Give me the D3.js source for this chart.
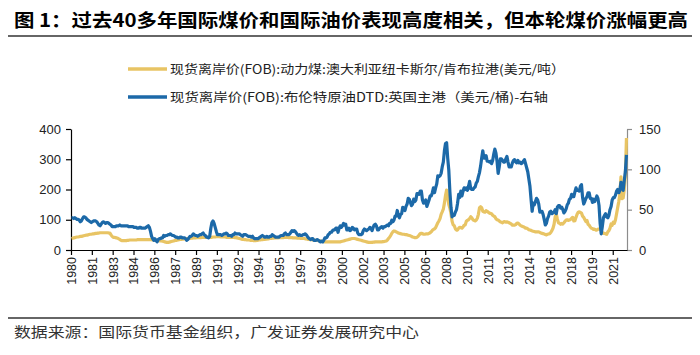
<!DOCTYPE html>
<html><head><meta charset="utf-8">
<script src="https://cdn.jsdelivr.net/npm/d3@7"></script>
<style>body{margin:0;background:#fff}</style></head>
<body><svg id="c" width="700" height="355"></svg>
<script>
const titleText = "图 1：过去40多年国际煤价和国际油价表现高度相关，但本轮煤价涨幅更高";
const seriesNames = ["现货离岸价(FOB):动力煤:澳大利亚纽卡斯尔/肯布拉港(美元/吨）",
                     "现货离岸价(FOB):布伦特原油DTD:英国主港（美元/桶)-右轴"];
const sourceText = "数据来源：国际货币基金组织，广发证券发展研究中心";
const startYear = 1980;
const tickEvery = 19;
const xTickLabels = ["1980","1981","1983","1984","1986","1987","1989","1991","1992","1994","1995","1997","1999","2000","2002","2003","2005","2006","2008","2010","2011","2013","2014","2016","2018","2019","2021"];
const leftTicks = [0,100,200,300,400];
const rightTicks = [0,50,100,150];

// Monthly, Jan 1980 - Mar 2022
const coal = [
38,39,40,41,42,43,43,44,45,45,46,47,
48,49,49,50,51,52,52,53,53,54,55,55,
56,56,57,57,57,57,57,57,57,57,56,56,
50,45,42,42,41,40,39,37,35,32,31,31,
31,31,31,32,32,33,33,33,33,33,33,33,
34,34,34,34,34,34,34,34,34,34,34,34,
34,34,33,33,33,32,32,31,31,30,30,29,
28,27,26,25,25,26,27,28,29,30,31,32,
32,33,34,35,35,36,36,37,37,38,38,38,
38,39,39,40,40,40,41,41,41,41,41,42,
42,42,42,42,42,42,42,42,42,43,43,43,
44,44,44,44,43,43,43,43,43,42,42,42,
42,42,42,42,42,41,41,40,39,38,37,36,
35,35,34,34,33,33,33,32,32,32,31,31,
31,32,32,33,33,34,34,35,35,36,36,37,
37,38,38,39,39,40,40,40,40,41,41,41,
41,41,42,42,42,42,41,41,41,41,40,40,
40,40,39,39,39,38,38,38,38,37,37,36,
35,35,34,34,33,33,32,32,32,31,31,30,
29,28,28,27,27,27,27,27,27,27,27,27,
27,27,27,27,27,27,28,29,30,31,32,33,
34,35,36,37,38,38,38,37,36,35,34,33,
32,31,30,29,28,27,26,25,25,25,25,26,
26,27,27,27,27,27,27,27,28,28,29,30,
33,38,42,48,55,60,63,62,60,58,56,55,
54,53,52,52,51,51,50,49,48,47,45,43,
42,41,41,42,45,50,54,55,54,52,52,53,
53,53,55,57,60,65,68,70,74,82,90,96,
104,118,126,135,155,180,198,175,150,138,120,95,
83,80,70,66,66,72,75,74,72,76,82,83,
95,98,100,104,110,106,100,98,96,99,105,118,
140,143,140,128,126,125,130,128,125,122,121,120,
115,112,110,103,100,99,96,93,92,90,93,94,
92,93,92,90,88,86,82,82,82,84,88,89,
86,82,80,78,77,75,72,72,70,67,66,65,
63,62,61,60,60,60,60,58,56,55,54,53,
51,50,52,53,54,58,64,72,85,110,120,102,
90,88,85,88,86,90,95,99,100,98,99,101,
105,108,96,97,108,118,125,126,124,122,112,108,
101,94,98,85,82,76,72,71,68,69,66,66,
69,69,70,64,58,55,55,53,52,60,64,72,
86,82,92,88,100,120,140,160,185,242,170,172,
200,245,370];

const brent = [
40,40,39,40,39,38,38,37,35,36,39,41,
41,40,38,37,36,35,34,35,36,36,36,35,
33,31,30,32,34,35,34,33,34,34,33,32,
31,29,29,29,29,30,30,30,31,30,30,30,
30,30,30,30,29,29,29,29,29,28,28,28,
27,27,28,28,27,27,27,27,28,29,30,28,
23,17,14,12,14,12,10,13,14,14,15,15,
18,17,18,18,19,19,20,19,18,18,17,16,
16,15,15,16,16,15,15,15,14,12,13,15,
17,17,18,20,19,18,18,17,18,19,19,20,
21,19,18,16,16,15,17,27,34,36,33,28,
23,19,19,19,19,18,19,20,20,21,20,18,
18,18,17,19,19,21,20,20,20,20,19,18,
17,19,19,19,18,17,17,17,16,17,15,14,
14,14,14,15,16,17,18,17,16,16,17,16,
16,17,17,19,18,17,16,16,16,16,17,18,
18,18,20,21,19,19,19,20,22,24,23,24,
23,21,19,18,19,18,18,19,19,20,19,17,
15,14,13,14,14,12,12,12,13,12,11,10,
11,10,12,15,15,16,19,20,22,22,24,25,
25,27,27,22,27,30,28,30,33,31,32,25,
25,27,24,25,28,27,25,26,26,21,19,19,
19,20,24,26,25,24,25,26,28,27,24,28,
31,32,30,25,25,27,28,29,27,29,29,30,
31,30,33,33,37,35,37,42,42,49,43,40,
44,45,53,52,49,54,57,64,63,59,55,57,
63,60,62,70,70,69,73,73,62,58,59,62,
54,58,62,67,67,71,77,71,77,82,92,91,
92,95,103,109,123,132,133,114,99,72,53,41,
44,43,47,50,58,69,65,73,67,73,77,75,
77,74,79,85,76,75,75,77,78,83,85,91,
96,104,114,123,114,114,117,110,110,109,110,107,
111,119,125,120,110,95,103,113,113,111,109,109,
113,116,109,103,103,103,108,111,112,109,108,111,
108,109,107,108,110,112,107,102,97,88,79,63,
48,58,56,60,64,62,57,47,48,48,44,38,
31,33,39,42,47,48,45,46,47,50,45,53,
55,55,52,53,50,46,48,51,56,58,63,64,
69,66,66,72,77,74,74,73,79,81,65,57,
60,64,66,71,71,64,64,59,63,60,63,67,
64,55,33,20,29,40,43,45,41,40,43,50,
54,62,65,65,68,73,75,71,74,84,81,74,
86,97,118];

const colors = ["#E8C464", "#1C69A8"];
const cjk = "'Noto Sans CJK SC','Noto Sans',sans-serif";
const latin = "'Liberation Sans',Arial,sans-serif";

const svg = d3.select("#c");
const m = {l:71, r:627, t:129, b:250};

// title
svg.append("text").attr("x",14).attr("y",27).text(titleText)
  .attr("font-family",cjk).attr("font-weight","bold").attr("font-size",18)
  .attr("textLength",674).attr("lengthAdjust","spacingAndGlyphs").attr("fill","#000");
svg.append("line").attr("x1",8).attr("x2",692).attr("y1",36).attr("y2",36)
  .attr("stroke","#333").attr("stroke-width",1.6);

// legend
const legY = [69, 97], legW = [395, 378];
seriesNames.forEach((n,i)=>{
  svg.append("line").attr("x1",128).attr("x2",167).attr("y1",legY[i]).attr("y2",legY[i])
    .attr("stroke",colors[i]).attr("stroke-width",3.5);
  svg.append("text").attr("x",170).attr("y",legY[i]+4.5).text(n)
    .attr("font-family",cjk).attr("font-size",12.5).attr("fill","#222")
    .attr("textLength",legW[i]).attr("lengthAdjust","spacingAndGlyphs");
});

const n = coal.length;
const x = d3.scaleLinear().domain([0,n]).range([m.l,m.r]);
const yL = d3.scaleLinear().domain([0,400]).range([m.b,m.t]);
const yR = d3.scaleLinear().domain([0,150]).range([m.b,m.t]);

// axes
const gL = svg.append("g").attr("transform",`translate(${m.l},0)`)
  .call(d3.axisLeft(yL).tickValues(leftTicks).tickSize(5).tickSizeOuter(0));
gL.selectAll("text").attr("font-family",latin).attr("font-size",13).attr("fill","#222").attr("x",-10);
gL.selectAll("line,path").attr("stroke","#000").attr("stroke-width",1.2);

const gR = svg.append("g").attr("transform",`translate(${m.r},0)`)
  .call(d3.axisRight(yR).tickValues(rightTicks).tickSize(5).tickSizeOuter(0));
gR.selectAll("text").attr("font-family",latin).attr("font-size",13).attr("fill","#222").attr("x",12);
gR.selectAll("line,path").attr("stroke","#8c8c8c").attr("stroke-width",1.2);

const tickIdx = xTickLabels.map((d,i)=>i*tickEvery);
const gX = svg.append("g").attr("transform",`translate(0,${m.b})`)
  .call(d3.axisBottom(x).tickValues(tickIdx).tickSize(5).tickSizeOuter(0)
    .tickFormat((d,i)=>xTickLabels[i]));
gX.selectAll("line,path").attr("stroke","#000").attr("stroke-width",1.2);
gX.selectAll("text").attr("font-family",latin).attr("font-size",12.5).attr("fill","#222")
  .attr("transform","rotate(-90)").attr("text-anchor","end")
  .attr("x",-7).attr("y",0).attr("dy","0.35em");

// lines
const lineL = d3.line().x((d,i)=>x(i+0.5)).y(d=>yL(d));
const lineR = d3.line().x((d,i)=>x(i+0.5)).y(d=>yR(d));
svg.append("path").datum(coal).attr("d",lineL).attr("fill","none")
  .attr("stroke",colors[0]).attr("stroke-width",3.2).attr("stroke-linejoin","round");
svg.append("path").datum(brent).attr("d",lineR).attr("fill","none")
  .attr("stroke",colors[1]).attr("stroke-width",3.2).attr("stroke-linejoin","round");

// footer
svg.append("line").attr("x1",8).attr("x2",692).attr("y1",318).attr("y2",318)
  .attr("stroke","#333").attr("stroke-width",1.6);
svg.append("text").attr("x",14).attr("y",337).text(sourceText)
  .attr("font-family",cjk).attr("font-size",14).attr("fill","#333")
  .attr("textLength",405).attr("lengthAdjust","spacingAndGlyphs");
</script></body></html>
